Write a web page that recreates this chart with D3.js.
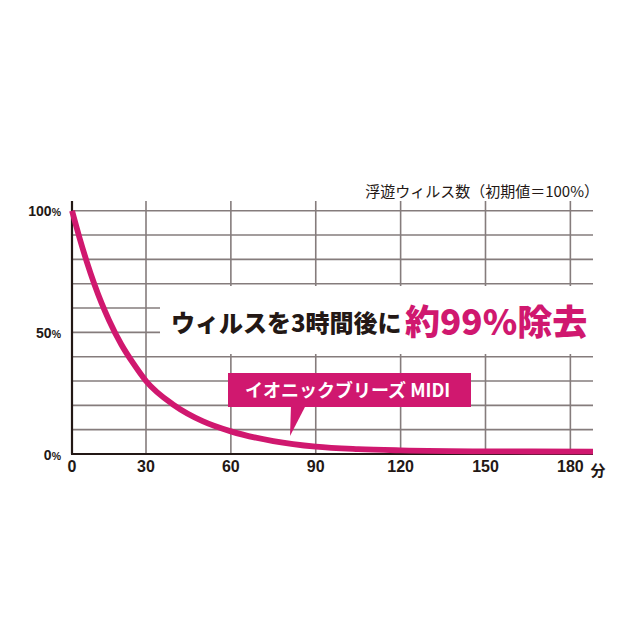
<!DOCTYPE html>
<html>
<head>
<meta charset="utf-8">
<script src="https://cdn.jsdelivr.net/npm/d3@7"></script>
<style>
  body { margin: 0; background: #fff; }
  svg { display: block; }
</style>
</head>
<body>
<svg id="chart"></svg>
<script>
// minutes after start, remaining airborne virus (% of initial)
const minutes   = [0, 3, 6, 9, 12, 15, 20, 25, 30, 40, 50, 60, 75, 90, 105, 120, 150, 188];
const remaining = [100, 89, 79, 70, 62, 55, 45, 37, 30, 20, 13.5, 9.3, 5.3, 3, 2, 1.5, 1.1, 1];

const xTicks = [0, 30, 60, 90, 120, 150, 180];
const yGrid = [0, 10, 20, 30, 40, 50, 60, 70, 80, 90, 100];
const yLabels = [0, 50, 100];

const titleText = "浮遊ウィルス数（初期値＝100%）";
const headlineDark = "ウィルスを3時間後に";
const headlinePink = "約99%除去";
const calloutText = "イオニックブリーズ MIDI";
const unitText = "分";

class DecayChart {
    constructor(id) {
        this.width = 640;
        this.height = 640;
        this.pink = "#d0186f";
        this.ink = "#231815";
        this.gridColor = "#857c7c";
        this.svg = d3.select(id)
            .attr("width", this.width)
            .attr("height", this.height);

        // the first 30 minutes are drawn a bit narrower than the rest
        this.x = d3.scaleLinear().domain([0, 30, 188]).range([72, 146, 593]);
        this.y = d3.scaleLinear().domain([0, 100]).range([454, 210.7]);

        this.drawGrid();
        this.drawHeadline();
        this.drawAxes();
        this.drawCurve();
        this.drawCallout();
    }

    drawGrid() {
        const g = this.svg.append("g").attr("class", "grid");
        const x0 = this.x(0), x1 = this.x(188);

        g.selectAll("line.h")
            .data(yGrid.filter(d => d > 0))
            .enter().append("line")
            .attr("x1", x0).attr("x2", x1)
            .attr("y1", d => this.y(d)).attr("y2", d => this.y(d))
            .attr("stroke", this.gridColor)
            .attr("stroke-width", 1.6);

        g.selectAll("line.v")
            .data(xTicks.filter(d => d > 0))
            .enter().append("line")
            .attr("x1", d => this.x(d)).attr("x2", d => this.x(d))
            .attr("y1", 201).attr("y2", this.y(0))
            .attr("stroke", this.gridColor)
            .attr("stroke-width", 1.6);

        // title above the grid
        this.svg.append("text")
            .attr("x", 599).attr("y", 197)
            .attr("text-anchor", "end")
            .attr("font-family", "'Noto Sans CJK JP'")
            .attr("font-size", 15)
            .attr("fill", this.ink)
            .text(titleText);
    }

    drawHeadline() {
        // white band that cuts through the grid
        this.svg.append("rect")
            .attr("x", 160).attr("y", 286)
            .attr("width", 440).attr("height", 68)
            .attr("fill", "#fff");

        const t = this.svg.append("text")
            .attr("x", 171).attr("y", 332)
            .attr("font-family", "'Noto Sans CJK JP'")
            .attr("font-weight", 900);
        t.append("tspan")
            .attr("font-size", 24)
            .attr("fill", this.ink)
            .text(headlineDark);
        t.append("tspan")
            .attr("x", 405).attr("y", 335)
            .attr("font-size", 35)
            .attr("fill", this.pink)
            .text(headlinePink);
    }

    drawAxes() {
        const g = this.svg.append("g").attr("class", "axes");
        g.append("line")
            .attr("x1", this.x(0)).attr("x2", this.x(0))
            .attr("y1", 201).attr("y2", this.y(0))
            .attr("stroke", this.ink).attr("stroke-width", 2.2);
        g.append("line")
            .attr("x1", this.x(0) - 1).attr("x2", this.x(188))
            .attr("y1", this.y(0)).attr("y2", this.y(0))
            .attr("stroke", this.ink).attr("stroke-width", 2.2);

        g.selectAll("text.xl")
            .data(xTicks)
            .enter().append("text")
            .attr("x", d => this.x(d)).attr("y", 472)
            .attr("text-anchor", "middle")
            .attr("font-family", "'Liberation Sans', Arial, sans-serif")
            .attr("font-weight", 700)
            .attr("font-size", 16)
            .attr("fill", this.ink)
            .text(d => d);

        g.append("text")
            .attr("x", 598).attr("y", 476)
            .attr("text-anchor", "middle")
            .attr("font-family", "'Noto Sans CJK JP'")
            .attr("font-weight", 700)
            .attr("font-size", 15)
            .attr("fill", this.ink)
            .text(unitText);

        const yl = g.selectAll("text.yl")
            .data(yLabels)
            .enter().append("text")
            .attr("x", 61).attr("y", d => this.y(d) + 5.5)
            .attr("text-anchor", "end")
            .attr("font-family", "'Liberation Sans', Arial, sans-serif")
            .attr("font-weight", 700)
            .attr("fill", this.ink);
        yl.append("tspan").attr("font-size", 14).text(d => d);
        yl.append("tspan").attr("font-size", 10.5).text("%");
    }

    drawCurve() {
        const line = d3.line()
            .x(d => this.x(d[0]))
            .y(d => this.y(d[1]))
            .curve(d3.curveMonotoneX);

        this.svg.append("path")
            .datum(minutes.map((m, i) => [m, remaining[i]]))
            .attr("d", line)
            .attr("fill", "none")
            .attr("stroke", this.pink)
            .attr("stroke-width", 5.8)
            .attr("stroke-linecap", "butt");
    }

    drawCallout() {
        const g = this.svg.append("g").attr("class", "callout");
        g.append("rect")
            .attr("x", 228).attr("y", 373)
            .attr("width", 243).attr("height", 34)
            .attr("fill", this.pink);
        g.append("path")
            .attr("d", "M291,405 L306,405 L290,436 Z")
            .attr("fill", this.pink);
        g.append("text")
            .attr("x", 245).attr("y", 397)
            .attr("font-family", "'Noto Sans CJK JP'")
            .attr("font-weight", 700)
            .attr("font-size", 18)
            .attr("fill", "#fff")
            .text(calloutText);
    }
}

new DecayChart("#chart");
</script>
</body>
</html>
